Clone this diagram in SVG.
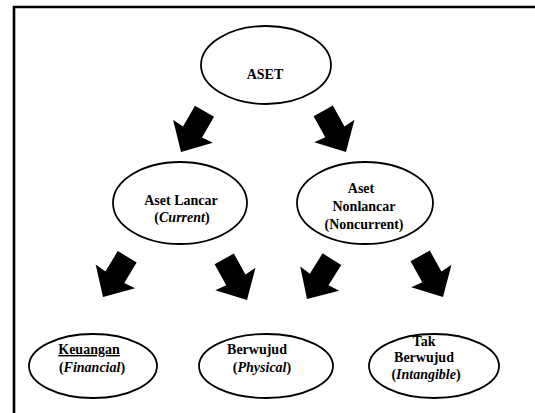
<svg xmlns="http://www.w3.org/2000/svg" xmlns:xlink="http://www.w3.org/1999/xlink" width="535" height="413" viewBox="0 0 535 413">
<style>
.n ellipse{fill:#fff;stroke:#000;stroke-width:1.8}
.n text{font-family:'Liberation Serif','DejaVu Serif',serif;font-size:14px;font-weight:bold;text-anchor:middle;fill:#000}
.i{font-style:italic}
.arr{fill:#000}
</style>
<defs>
<polygon id="arr" points="-11,-47 11,-47 11,-23 23,-24 0,0 -23,-24 -11,-23"/>
</defs>
<rect width="535" height="413" fill="#fff"/>
<path d="M14,413 V7 H535" fill="none" stroke="#000" stroke-width="2.6"/>
<g id="connectors" class="arr">
<use xlink:href="#arr" transform="translate(181,152) rotate(30)"/>
<use xlink:href="#arr" transform="translate(346,152) rotate(-29)"/>
<use xlink:href="#arr" transform="translate(103,297) rotate(31)"/>
<use xlink:href="#arr" transform="translate(247,300) rotate(-29)"/>
<use xlink:href="#arr" transform="translate(307,299) rotate(32)"/>
<use xlink:href="#arr" transform="translate(443,297) rotate(-29)"/>
</g>
<g id="aset" class="n">
<ellipse cx="266" cy="65" rx="65" ry="39"/>
<text x="265" y="79" font-family="Liberation Serif, serif">ASET</text>
</g>
<g id="aset-lancar" class="n">
<ellipse cx="180" cy="203" rx="67" ry="41"/>
<text x="181" y="205" font-family="Liberation Serif, serif">Aset Lancar</text>
<text x="182" y="222" font-family="Liberation Serif, serif">(<tspan class="i">Current</tspan>)</text>
</g>
<g id="aset-nonlancar" class="n">
<ellipse cx="365" cy="203" rx="68" ry="41"/>
<text x="361" y="193" font-family="Liberation Serif, serif">Aset</text>
<text x="364" y="211" font-family="Liberation Serif, serif">Nonlancar</text>
<text x="364" y="229" font-family="Liberation Serif, serif">(Noncurrent)</text>
</g>
<g id="keuangan" class="n">
<ellipse cx="93" cy="366" rx="64" ry="32"/>
<text x="89" y="354" font-family="Liberation Serif, serif" text-decoration="underline">Keuangan</text>
<text x="92" y="372" font-family="Liberation Serif, serif">(<tspan class="i">Financial</tspan>)</text>
</g>
<g id="berwujud" class="n">
<ellipse cx="266" cy="366" rx="67" ry="32"/>
<text x="257" y="354" font-family="Liberation Serif, serif">Berwujud</text>
<text x="262" y="372" font-family="Liberation Serif, serif">(<tspan class="i">Physical</tspan>)</text>
</g>
<g id="tak-berwujud" class="n">
<ellipse cx="434" cy="366" rx="65" ry="32"/>
<text x="424" y="346" font-family="Liberation Serif, serif">Tak</text>
<text x="424" y="362" font-family="Liberation Serif, serif">Berwujud</text>
<text x="426" y="379" font-family="Liberation Serif, serif">(<tspan class="i">Intangible</tspan>)</text>
</g>
</svg>
